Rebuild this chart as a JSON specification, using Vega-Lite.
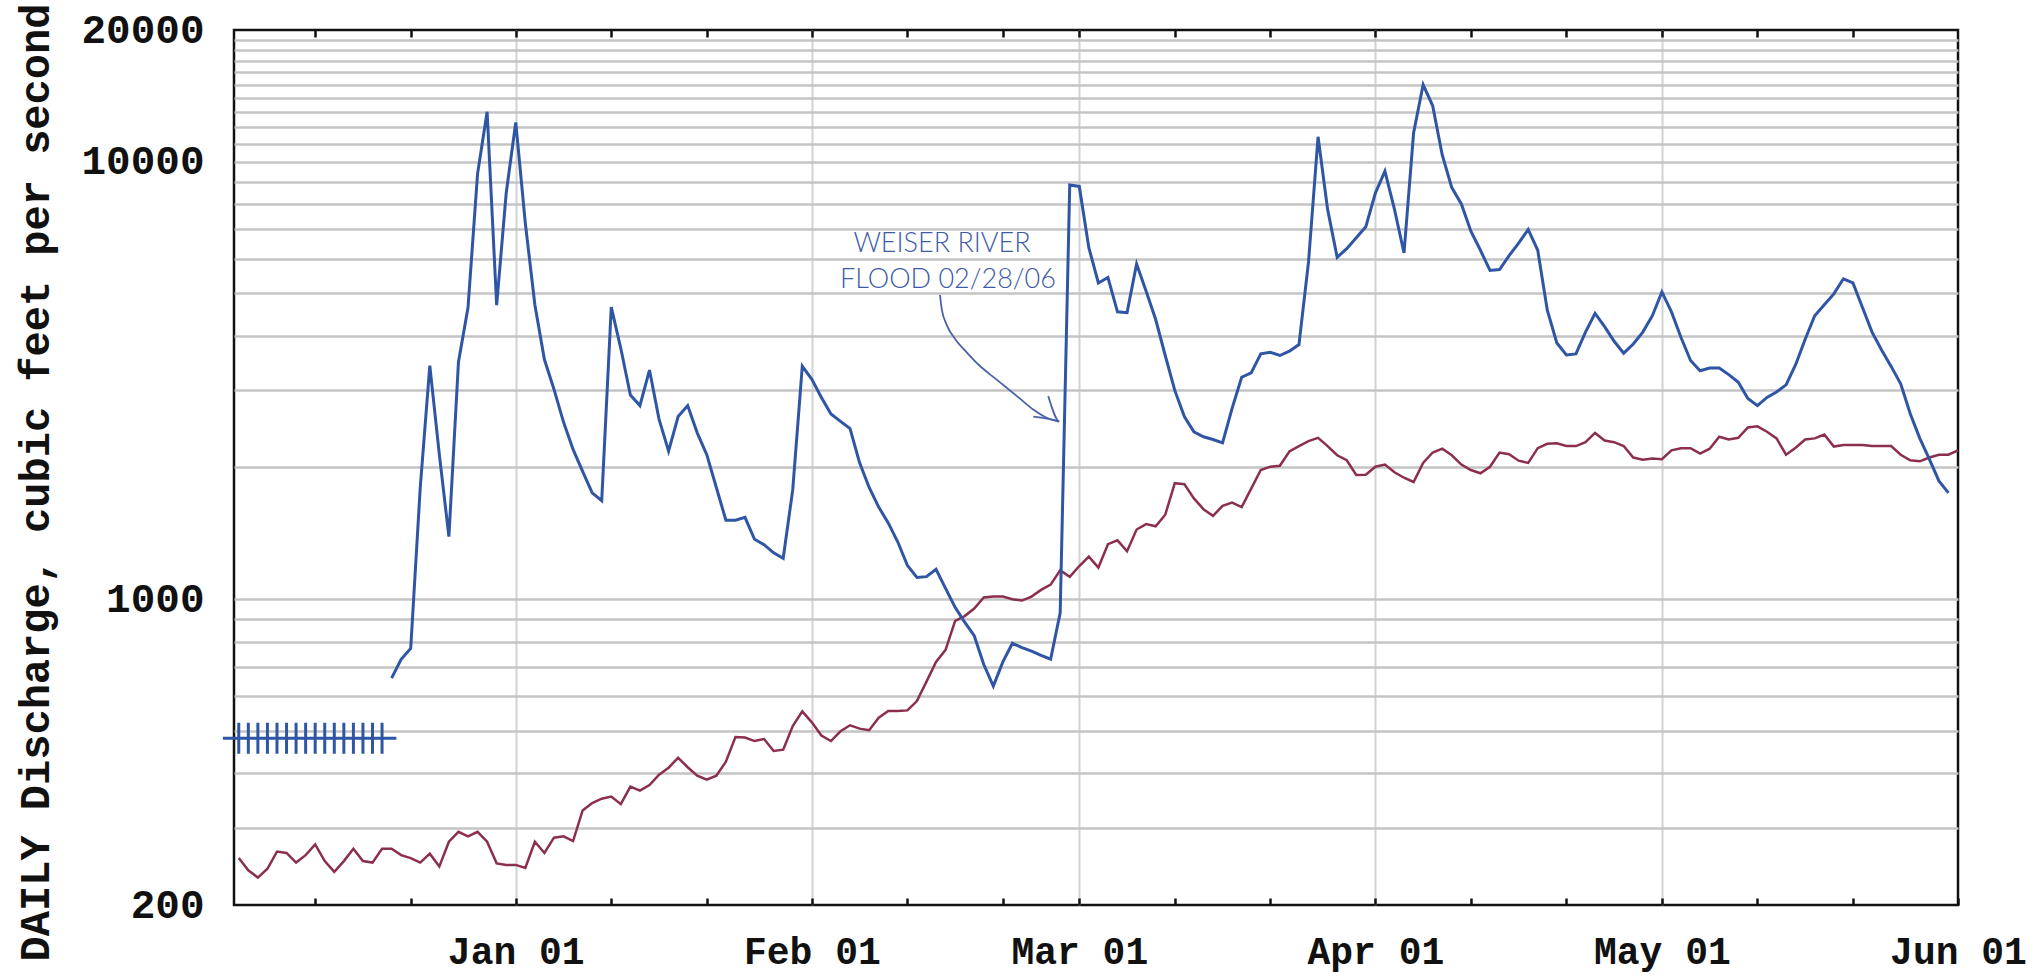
{
  "$schema": "https://vega.github.io/schema/vega-lite/v6.json",
  "width": 1724,
  "height": 875,
  "autosize": {"type": "none"},
  "padding": {"left": 234, "top": 30, "right": 79, "bottom": 71},
  "background": "white",
  "config": {"view": {"stroke": "#111111", "strokeWidth": 2.5}},
  "datasets": {
    "discharge": [
      {"date":"2005-12-19","value":660},{"date":"2005-12-20","value":729},{"date":"2005-12-21","value":772},{"date":"2005-12-22","value":1800},{"date":"2005-12-23","value":3420},{"date":"2005-12-24","value":2140},{"date":"2005-12-25","value":1390},{"date":"2005-12-26","value":3480},{"date":"2005-12-27","value":4640},{"date":"2005-12-28","value":9380},{"date":"2005-12-29","value":13000},{"date":"2005-12-30","value":4700},{"date":"2005-12-31","value":8480},
      {"date":"2006-01-01","value":12300},{"date":"2006-01-02","value":7240},{"date":"2006-01-03","value":4710},{"date":"2006-01-04","value":3530},{"date":"2006-01-05","value":3020},{"date":"2006-01-06","value":2540},{"date":"2006-01-07","value":2200},{"date":"2006-01-08","value":1960},{"date":"2006-01-09","value":1750},{"date":"2006-01-10","value":1680},{"date":"2006-01-11","value":4650},{"date":"2006-01-12","value":3740},{"date":"2006-01-13","value":2930},{"date":"2006-01-14","value":2770},{"date":"2006-01-15","value":3340},{"date":"2006-01-16","value":2580},{"date":"2006-01-17","value":2180},{"date":"2006-01-18","value":2615},{"date":"2006-01-19","value":2770},{"date":"2006-01-20","value":2400},{"date":"2006-01-21","value":2140},{"date":"2006-01-22","value":1800},{"date":"2006-01-23","value":1516},{"date":"2006-01-24","value":1516},{"date":"2006-01-25","value":1538},{"date":"2006-01-26","value":1371},{"date":"2006-01-27","value":1332},{"date":"2006-01-28","value":1276},{"date":"2006-01-29","value":1240},{"date":"2006-01-30","value":1780},{"date":"2006-01-31","value":3410},
      {"date":"2006-02-01","value":3180},{"date":"2006-02-02","value":2890},{"date":"2006-02-03","value":2650},{"date":"2006-02-04","value":2550},{"date":"2006-02-05","value":2455},{"date":"2006-02-06","value":2050},{"date":"2006-02-07","value":1800},{"date":"2006-02-08","value":1624},{"date":"2006-02-09","value":1494},{"date":"2006-02-10","value":1351},{"date":"2006-02-11","value":1195},{"date":"2006-02-12","value":1121},{"date":"2006-02-13","value":1126},{"date":"2006-02-14","value":1171},{"date":"2006-02-15","value":1059},{"date":"2006-02-16","value":958},{"date":"2006-02-17","value":886},{"date":"2006-02-18","value":825},{"date":"2006-02-19","value":709},{"date":"2006-02-20","value":633},{"date":"2006-02-21","value":719},{"date":"2006-02-22","value":793},{"date":"2006-02-23","value":775},{"date":"2006-02-24","value":761},{"date":"2006-02-25","value":744},{"date":"2006-02-26","value":729},{"date":"2006-02-27","value":931},{"date":"2006-02-28","value":8850},
      {"date":"2006-03-01","value":8780},{"date":"2006-03-02","value":6360},{"date":"2006-03-03","value":5283},{"date":"2006-03-04","value":5437},{"date":"2006-03-05","value":4537},{"date":"2006-03-06","value":4517},{"date":"2006-03-07","value":5840},{"date":"2006-03-08","value":5060},{"date":"2006-03-09","value":4358},{"date":"2006-03-10","value":3606},{"date":"2006-03-11","value":3001},{"date":"2006-03-12","value":2615},{"date":"2006-03-13","value":2413},{"date":"2006-03-14","value":2351},{"date":"2006-03-15","value":2318},{"date":"2006-03-16","value":2277},{"date":"2006-03-17","value":2731},{"date":"2006-03-18","value":3216},{"date":"2006-03-19","value":3291},{"date":"2006-03-20","value":3637},{"date":"2006-03-21","value":3668},{"date":"2006-03-22","value":3606},{"date":"2006-03-23","value":3689},{"date":"2006-03-24","value":3820},{"date":"2006-03-25","value":5900},{"date":"2006-03-26","value":11400},{"date":"2006-03-27","value":7780},{"date":"2006-03-28","value":6045},{"date":"2006-03-29","value":6327},{"date":"2006-03-30","value":6702},{"date":"2006-03-31","value":7100},
      {"date":"2006-04-01","value":8480},{"date":"2006-04-02","value":9510},{"date":"2006-04-03","value":7780},{"date":"2006-04-04","value":6185},{"date":"2006-04-05","value":11630},{"date":"2006-04-06","value":15000},{"date":"2006-04-07","value":13420},{"date":"2006-04-08","value":10360},{"date":"2006-04-09","value":8727},{"date":"2006-04-10","value":8009},{"date":"2006-04-11","value":6937},{"date":"2006-04-12","value":6274},{"date":"2006-04-13","value":5641},{"date":"2006-04-14","value":5670},{"date":"2006-04-15","value":6098},{"date":"2006-04-16","value":6511},{"date":"2006-04-17","value":7000},{"date":"2006-04-18","value":6274},{"date":"2006-04-19","value":4575},{"date":"2006-04-20","value":3852},{"date":"2006-04-21","value":3615},{"date":"2006-04-22","value":3637},{"date":"2006-04-23","value":4079},{"date":"2006-04-24","value":4500},{"date":"2006-04-25","value":4199},{"date":"2006-04-26","value":3886},{"date":"2006-04-27","value":3650},{"date":"2006-04-28","value":3830},{"date":"2006-04-29","value":4079},{"date":"2006-04-30","value":4446},
      {"date":"2006-05-01","value":5040},{"date":"2006-05-02","value":4537},{"date":"2006-05-03","value":3963},{"date":"2006-05-04","value":3513},{"date":"2006-05-05","value":3328},{"date":"2006-05-06","value":3376},{"date":"2006-05-07","value":3376},{"date":"2006-05-08","value":3261},{"date":"2006-05-09","value":3133},{"date":"2006-05-10","value":2875},{"date":"2006-05-11","value":2769},{"date":"2006-05-12","value":2892},{"date":"2006-05-13","value":2976},{"date":"2006-05-14","value":3090},{"date":"2006-05-15","value":3435},{"date":"2006-05-16","value":3929},{"date":"2006-05-17","value":4446},{"date":"2006-05-18","value":4709},{"date":"2006-05-19","value":4987},{"date":"2006-05-20","value":5400},{"date":"2006-05-21","value":5283},{"date":"2006-05-22","value":4643},{"date":"2006-05-23","value":4079},{"date":"2006-05-24","value":3711},{"date":"2006-05-25","value":3405},{"date":"2006-05-26","value":3106},{"date":"2006-05-27","value":2653},{"date":"2006-05-28","value":2331},{"date":"2006-05-29","value":2091},{"date":"2006-05-30","value":1864},{"date":"2006-05-31","value":1750}
    ],
    "median": [
      {"date":"2005-12-03","value":256},{"date":"2005-12-04","value":240},{"date":"2005-12-05","value":231},{"date":"2005-12-06","value":242},{"date":"2005-12-07","value":265},{"date":"2005-12-08","value":263},{"date":"2005-12-09","value":250},{"date":"2005-12-10","value":260},{"date":"2005-12-11","value":275},{"date":"2005-12-12","value":252},{"date":"2005-12-13","value":238},{"date":"2005-12-14","value":252},{"date":"2005-12-15","value":269},{"date":"2005-12-16","value":252},{"date":"2005-12-17","value":250},{"date":"2005-12-18","value":269},{"date":"2005-12-19","value":269},{"date":"2005-12-20","value":260},{"date":"2005-12-21","value":256},{"date":"2005-12-22","value":250},{"date":"2005-12-23","value":262},{"date":"2005-12-24","value":245},{"date":"2005-12-25","value":279},{"date":"2005-12-26","value":294},{"date":"2005-12-27","value":287},{"date":"2005-12-28","value":294},{"date":"2005-12-29","value":279},{"date":"2005-12-30","value":249},{"date":"2005-12-31","value":247},
      {"date":"2006-01-01","value":247},{"date":"2006-01-02","value":243},{"date":"2006-01-03","value":279},{"date":"2006-01-04","value":263},{"date":"2006-01-05","value":285},{"date":"2006-01-06","value":287},{"date":"2006-01-07","value":280},{"date":"2006-01-08","value":329},{"date":"2006-01-09","value":342},{"date":"2006-01-10","value":350},{"date":"2006-01-11","value":354},{"date":"2006-01-12","value":340},{"date":"2006-01-13","value":373},{"date":"2006-01-14","value":365},{"date":"2006-01-15","value":376},{"date":"2006-01-16","value":397},{"date":"2006-01-17","value":412},{"date":"2006-01-18","value":434},{"date":"2006-01-19","value":413},{"date":"2006-01-20","value":395},{"date":"2006-01-21","value":387},{"date":"2006-01-22","value":395},{"date":"2006-01-23","value":425},{"date":"2006-01-24","value":484},{"date":"2006-01-25","value":483},{"date":"2006-01-26","value":474},{"date":"2006-01-27","value":479},{"date":"2006-01-28","value":450},{"date":"2006-01-29","value":453},{"date":"2006-01-30","value":513},{"date":"2006-01-31","value":554},
      {"date":"2006-02-01","value":523},{"date":"2006-02-02","value":488},{"date":"2006-02-03","value":474},{"date":"2006-02-04","value":499},{"date":"2006-02-05","value":515},{"date":"2006-02-06","value":506},{"date":"2006-02-07","value":502},{"date":"2006-02-08","value":536},{"date":"2006-02-09","value":555},{"date":"2006-02-10","value":555},{"date":"2006-02-11","value":557},{"date":"2006-02-12","value":585},{"date":"2006-02-13","value":648},{"date":"2006-02-14","value":719},{"date":"2006-02-15","value":766},{"date":"2006-02-16","value":892},{"date":"2006-02-17","value":915},{"date":"2006-02-18","value":952},{"date":"2006-02-19","value":1009},{"date":"2006-02-20","value":1014},{"date":"2006-02-21","value":1014},{"date":"2006-02-22","value":1000},{"date":"2006-02-23","value":993},{"date":"2006-02-24","value":1014},{"date":"2006-02-25","value":1050},{"date":"2006-02-26","value":1080},{"date":"2006-02-27","value":1164},{"date":"2006-02-28","value":1125},
      {"date":"2006-03-01","value":1191},{"date":"2006-03-02","value":1251},{"date":"2006-03-03","value":1181},{"date":"2006-03-04","value":1336},{"date":"2006-03-05","value":1363},{"date":"2006-03-06","value":1287},{"date":"2006-03-07","value":1443},{"date":"2006-03-08","value":1485},{"date":"2006-03-09","value":1468},{"date":"2006-03-10","value":1560},{"date":"2006-03-11","value":1842},{"date":"2006-03-12","value":1832},{"date":"2006-03-13","value":1700},{"date":"2006-03-14","value":1606},{"date":"2006-03-15","value":1551},{"date":"2006-03-16","value":1634},{"date":"2006-03-17","value":1662},{"date":"2006-03-18","value":1624},{"date":"2006-03-19","value":1790},{"date":"2006-03-20","value":1974},{"date":"2006-03-21","value":2009},{"date":"2006-03-22","value":2018},{"date":"2006-03-23","value":2176},{"date":"2006-03-24","value":2239},{"date":"2006-03-25","value":2298},{"date":"2006-03-26","value":2338},{"date":"2006-03-27","value":2239},{"date":"2006-03-28","value":2133},{"date":"2006-03-29","value":2078},{"date":"2006-03-30","value":1923},{"date":"2006-03-31","value":1925},
      {"date":"2006-04-01","value":2008},{"date":"2006-04-02","value":2031},{"date":"2006-04-03","value":1951},{"date":"2006-04-04","value":1895},{"date":"2006-04-05","value":1853},{"date":"2006-04-06","value":2049},{"date":"2006-04-07","value":2164},{"date":"2006-04-08","value":2208},{"date":"2006-04-09","value":2133},{"date":"2006-04-10","value":2031},{"date":"2006-04-11","value":1974},{"date":"2006-04-12","value":1940},{"date":"2006-04-13","value":2008},{"date":"2006-04-14","value":2164},{"date":"2006-04-15","value":2145},{"date":"2006-04-16","value":2073},{"date":"2006-04-17","value":2049},{"date":"2006-04-18","value":2214},{"date":"2006-04-19","value":2265},{"date":"2006-04-20","value":2271},{"date":"2006-04-21","value":2239},{"date":"2006-04-22","value":2239},{"date":"2006-04-23","value":2285},{"date":"2006-04-24","value":2399},{"date":"2006-04-25","value":2305},{"date":"2006-04-26","value":2285},{"date":"2006-04-27","value":2239},{"date":"2006-04-28","value":2108},{"date":"2006-04-29","value":2084},{"date":"2006-04-30","value":2096},
      {"date":"2006-05-01","value":2090},{"date":"2006-05-02","value":2189},{"date":"2006-05-03","value":2214},{"date":"2006-05-04","value":2214},{"date":"2006-05-05","value":2151},{"date":"2006-05-06","value":2208},{"date":"2006-05-07","value":2352},{"date":"2006-05-08","value":2318},{"date":"2006-05-09","value":2338},{"date":"2006-05-10","value":2469},{"date":"2006-05-11","value":2484},{"date":"2006-05-12","value":2414},{"date":"2006-05-13","value":2331},{"date":"2006-05-14","value":2139},{"date":"2006-05-15","value":2220},{"date":"2006-05-16","value":2318},{"date":"2006-05-17","value":2331},{"date":"2006-05-18","value":2379},{"date":"2006-05-19","value":2233},{"date":"2006-05-20","value":2252},{"date":"2006-05-21","value":2252},{"date":"2006-05-22","value":2252},{"date":"2006-05-23","value":2239},{"date":"2006-05-24","value":2239},{"date":"2006-05-25","value":2239},{"date":"2006-05-26","value":2139},{"date":"2006-05-27","value":2078},{"date":"2006-05-28","value":2066},{"date":"2006-05-29","value":2108},{"date":"2006-05-30","value":2139},{"date":"2006-05-31","value":2139},{"date":"2006-06-01","value":2189}
    ],
    "hashline": [{"start":"2005-12-01T08:00:00Z","end":"2005-12-19T12:00:00Z","value":481}],
    "hashmarks": [
      {"date":"2005-12-03","value":481},{"date":"2005-12-04","value":481},{"date":"2005-12-05","value":481},{"date":"2005-12-06","value":481},{"date":"2005-12-07","value":481},{"date":"2005-12-08","value":481},{"date":"2005-12-09","value":481},{"date":"2005-12-10","value":481},{"date":"2005-12-11","value":481},{"date":"2005-12-12","value":481},{"date":"2005-12-13","value":481},{"date":"2005-12-14","value":481},{"date":"2005-12-15","value":481},{"date":"2005-12-16","value":481},{"date":"2005-12-17","value":481},{"date":"2005-12-18","value":481}
    ],
    "notes": [
      {"date":"2006-02-14T15:00:00Z","value":6480,"text":"WEISER RIVER"},
      {"date":"2006-02-15T06:00:00Z","value":5364,"text":"FLOOD 02/28/06"}
    ],
    "arrow": [
      {"date":"2006-02-14T10:05:00Z","value":4958,"part":"shaft","ord":1},
      {"date":"2006-02-14T14:10:00Z","value":4616,"part":"shaft","ord":2},
      {"date":"2006-02-15T02:53:00Z","value":4236,"part":"shaft","ord":3},
      {"date":"2006-02-15T23:31:00Z","value":3939,"part":"shaft","ord":4},
      {"date":"2006-02-17T05:02:00Z","value":3667,"part":"shaft","ord":5},
      {"date":"2006-02-18T14:24:00Z","value":3412,"part":"shaft","ord":6},
      {"date":"2006-02-19T23:46:00Z","value":3222,"part":"shaft","ord":7},
      {"date":"2006-02-21T09:36:00Z","value":3043,"part":"shaft","ord":8},
      {"date":"2006-02-22T18:58:00Z","value":2873,"part":"shaft","ord":9},
      {"date":"2006-02-24T04:19:00Z","value":2713,"part":"shaft","ord":10},
      {"date":"2006-02-25T14:10:00Z","value":2598,"part":"shaft","ord":11},
      {"date":"2006-02-26T21:36:00Z","value":2545,"part":"shaft","ord":12},
      {"date":"2006-02-24T04:19:00Z","value":2615,"part":"head","ord":1},
      {"date":"2006-02-26T21:36:00Z","value":2545,"part":"head","ord":2},
      {"date":"2006-02-25T18:00:00Z","value":2914,"part":"head","ord":3}
    ]
  },
  "encoding": {
    "y": {
      "field": "value",
      "type": "quantitative",
      "scale": {"type": "log", "domain": [200, 20000], "nice": false, "zero": false},
      "axis": {
        "values": [200,300,400,500,600,700,800,900,1000,2000,3000,4000,5000,6000,7000,8000,9000,10000,11000,12000,13000,14000,15000,16000,17000,18000,19000,20000],
        "labelExpr": "(datum.value == 200 || datum.value == 1000 || datum.value == 10000 || datum.value == 20000) ? format(datum.value, 'd') : ''",
        "labelOverlap": false,
        "ticks": false,
        "domain": false,
        "grid": true,
        "gridColor": "#c4c4c4",
        "gridWidth": 2.5,
        "gridOpacity": {"condition": {"test": "datum.value == 200 || datum.value == 20000", "value": 0}, "value": 1},
        "labelFont": "Liberation Mono",
        "labelFontWeight": "bold",
        "labelFontSize": 41,
        "labelColor": "#111111",
        "labelPadding": 30,
        "title": "DAILY Discharge, cubic feet per second",
        "titleFont": "Liberation Mono",
        "titleFontWeight": "bold",
        "titleFontSize": 42,
        "titleColor": "#111111",
        "titleAngle": -90,
        "titleAlign": "center",
        "titleBaseline": "alphabetic",
        "titleX": -186,
        "titleY": 452
      }
    }
  },
  "layer": [
    {
      "data": {"name": "median"},
      "mark": {"type": "line", "color": "#8c2f4d", "strokeWidth": 2.5},
      "encoding": {
        "x": {
          "field": "date", "type": "temporal",
          "scale": {"type": "utc", "domain": [{"year":2005,"month":12,"date":2,"hours":12,"utc":true},{"year":2006,"month":6,"date":1,"utc":true}]},
          "axis": {
            "orient": "top",
            "values": [{"year":2005,"month":12,"date":11,"utc":true},{"year":2005,"month":12,"date":21,"utc":true},{"year":2006,"month":1,"date":1,"utc":true},{"year":2006,"month":1,"date":11,"utc":true},{"year":2006,"month":1,"date":21,"utc":true},{"year":2006,"month":2,"date":1,"utc":true},{"year":2006,"month":2,"date":11,"utc":true},{"year":2006,"month":2,"date":21,"utc":true},{"year":2006,"month":3,"date":1,"utc":true},{"year":2006,"month":3,"date":11,"utc":true},{"year":2006,"month":3,"date":21,"utc":true},{"year":2006,"month":4,"date":1,"utc":true},{"year":2006,"month":4,"date":11,"utc":true},{"year":2006,"month":4,"date":21,"utc":true},{"year":2006,"month":5,"date":1,"utc":true},{"year":2006,"month":5,"date":11,"utc":true},{"year":2006,"month":5,"date":21,"utc":true}],
            "labels": false,
            "grid": false,
            "domain": false,
            "tickSize": -7,
            "tickWidth": 2.5,
            "tickColor": "#111111",
            "title": null
          }
        }
      }
    },
    {
      "data": {"name": "discharge"},
      "mark": {"type": "line", "color": "#2f55a5", "strokeWidth": 3},
      "encoding": {
        "x": {
          "field": "date", "type": "temporal",
          "scale": {"type": "utc", "domain": [{"year":2005,"month":12,"date":2,"hours":12,"utc":true},{"year":2006,"month":6,"date":1,"utc":true}]},
          "axis": {
            "orient": "bottom",
            "values": [{"year":2005,"month":12,"date":11,"utc":true},{"year":2005,"month":12,"date":21,"utc":true},{"year":2006,"month":1,"date":1,"utc":true},{"year":2006,"month":1,"date":11,"utc":true},{"year":2006,"month":1,"date":21,"utc":true},{"year":2006,"month":2,"date":1,"utc":true},{"year":2006,"month":2,"date":11,"utc":true},{"year":2006,"month":2,"date":21,"utc":true},{"year":2006,"month":3,"date":1,"utc":true},{"year":2006,"month":3,"date":11,"utc":true},{"year":2006,"month":3,"date":21,"utc":true},{"year":2006,"month":4,"date":1,"utc":true},{"year":2006,"month":4,"date":11,"utc":true},{"year":2006,"month":4,"date":21,"utc":true},{"year":2006,"month":5,"date":1,"utc":true},{"year":2006,"month":5,"date":11,"utc":true},{"year":2006,"month":5,"date":21,"utc":true},{"year":2006,"month":6,"date":1,"utc":true}],
            "labelExpr": "utcdate(datum.value) == 1 ? utcFormat(datum.value, '%b %d') : ''",
            "labelFlush": false,
            "labelOverlap": false,
            "labelFont": "Liberation Mono",
            "labelFontWeight": "bold",
            "labelFontSize": 38,
            "labelColor": "#111111",
            "labelPadding": 35,
            "grid": true,
            "gridColor": "#d2d2d2",
            "gridWidth": 2,
            "gridOpacity": {"condition": {"test": "utcdate(datum.value) == 1 && utcmonth(datum.value) != 5", "value": 1}, "value": 0},
            "domain": false,
            "tickSize": -7,
            "tickWidth": 2.5,
            "tickColor": "#111111",
            "title": null
          }
        }
      }
    },
    {
      "data": {"name": "hashline"},
      "mark": {"type": "rule", "color": "#2f55a5", "strokeWidth": 3},
      "encoding": {
        "x": {"field": "start", "type": "temporal", "scale": {"type": "utc", "domain": [{"year":2005,"month":12,"date":2,"hours":12,"utc":true},{"year":2006,"month":6,"date":1,"utc":true}]}, "axis": null},
        "x2": {"field": "end"}
      }
    },
    {
      "data": {"name": "hashmarks"},
      "mark": {"type": "tick", "orient": "vertical", "color": "#2f55a5", "size": 31, "thickness": 3, "opacity": 1},
      "encoding": {
        "x": {"field": "date", "type": "temporal", "scale": {"type": "utc", "domain": [{"year":2005,"month":12,"date":2,"hours":12,"utc":true},{"year":2006,"month":6,"date":1,"utc":true}]}, "axis": null}
      }
    },
    {
      "data": {"name": "arrow"},
      "mark": {"type": "line", "color": "#4a62a8", "strokeWidth": 1.8, "interpolate": "monotone"},
      "encoding": {
        "x": {"field": "date", "type": "temporal", "scale": {"type": "utc", "domain": [{"year":2005,"month":12,"date":2,"hours":12,"utc":true},{"year":2006,"month":6,"date":1,"utc":true}]}, "axis": null},
        "detail": {"field": "part"},
        "order": {"field": "ord", "type": "quantitative"}
      }
    },
    {
      "data": {"name": "notes"},
      "mark": {"type": "text", "color": "#3d5aa6", "font": "Lato", "fontWeight": 300, "fontSize": 27, "align": "center", "baseline": "middle"},
      "encoding": {
        "x": {"field": "date", "type": "temporal", "scale": {"type": "utc", "domain": [{"year":2005,"month":12,"date":2,"hours":12,"utc":true},{"year":2006,"month":6,"date":1,"utc":true}]}, "axis": null},
        "text": {"field": "text"}
      }
    }
  ],
  "resolve": {"axis": {"x": "independent"}}
}
